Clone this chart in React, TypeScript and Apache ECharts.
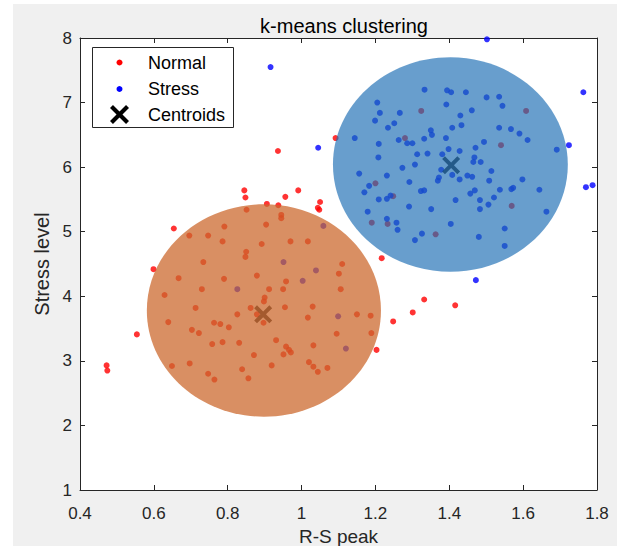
import React, { useEffect, useRef } from 'react';
import * as echarts from 'echarts';

// ---------- data ----------
const xTicks = [0.4, 0.6, 0.8, 1, 1.2, 1.4, 1.6, 1.8];
const yTicks = [1, 2, 3, 4, 5, 6, 7, 8];

const normalPoints: [number, number][] = [
  [0.472, 2.93], [0.474, 2.85], [0.554, 3.41], [0.599, 4.42], [0.654, 5.05], [0.845, 5.64], [0.848, 5.53],
  [0.956, 5.54], [0.991, 5.64], [0.936, 6.25], [1.050, 5.46], [1.044, 5.37], [1.048, 5.34], [1.092, 6.45],
  [1.217, 4.59], [1.332, 3.95], [1.301, 3.75], [1.416, 3.86], [1.248, 3.61], [1.203, 3.17],
  [0.851, 5.34], [0.906, 5.43], [0.937, 5.41], [0.791, 5.08], [0.696, 4.94], [0.747, 4.94], [0.786, 4.85],
  [0.850, 4.69], [0.848, 4.61], [0.734, 4.53], [0.667, 4.28], [0.790, 4.27], [0.879, 4.32], [0.730, 4.11],
  [0.629, 4.02], [0.713, 3.82], [0.826, 3.72], [0.862, 3.82], [0.879, 3.72], [0.639, 3.60], [0.763, 3.59],
  [0.780, 3.57], [0.803, 3.52], [0.703, 3.48], [0.722, 3.43], [0.758, 3.26], [0.786, 3.29], [0.831, 3.28],
  [0.871, 3.09], [0.649, 2.92], [0.697, 2.96], [0.747, 2.80], [0.764, 2.71], [0.839, 2.87], [0.856, 2.73],
  [0.904, 5.11], [0.945, 5.26], [0.945, 5.21], [0.892, 4.81], [0.970, 4.85], [1.017, 4.85], [0.958, 4.23],
  [0.950, 4.11], [0.912, 4.11], [0.900, 3.98], [0.898, 3.92], [0.955, 3.83], [0.897, 3.59], [1.030, 3.84],
  [1.017, 3.67], [1.110, 4.50], [1.101, 4.35], [1.106, 4.11], [1.150, 3.72], [1.187, 3.70], [1.095, 3.42],
  [1.189, 3.43], [0.931, 3.32], [0.958, 3.22], [0.966, 3.17], [0.971, 3.13], [0.951, 3.10], [1.032, 3.24],
  [1.020, 2.98], [1.032, 2.91], [1.044, 2.83], [1.070, 2.89], [0.919, 2.93],
  [1.324, 6.87], [1.280, 6.45], [1.200, 5.75], [1.248, 5.55], [1.190, 5.14], [1.233, 5.12], [1.363, 4.96],
  [1.608, 6.87], [1.540, 6.34], [1.569, 5.40],
];

const stressPoints: [number, number][] = [
  [0.916, 7.55], [1.045, 6.30], [1.502, 7.98], [1.763, 7.16], [1.724, 6.34], [1.770, 5.69], [1.788, 5.72],
  [1.472, 4.25],
  [0.826, 4.11], [1.059, 5.09], [0.951, 4.53], [1.039, 4.40], [1.003, 4.24], [1.099, 3.69], [1.120, 3.19],
  [1.333, 7.20], [1.394, 7.19], [1.405, 7.16], [1.445, 7.16], [1.205, 7.00], [1.392, 6.97], [1.212, 6.84],
  [1.266, 6.84], [1.199, 6.72], [1.251, 6.68], [1.234, 6.61], [1.430, 6.80], [1.433, 6.65], [1.408, 6.61],
  [1.350, 6.57], [1.353, 6.50], [1.144, 6.45], [1.263, 6.42], [1.332, 6.44], [1.391, 6.45], [1.286, 6.37],
  [1.300, 6.37], [1.209, 6.36], [1.398, 6.28], [1.428, 6.25], [1.313, 6.20], [1.341, 6.21], [1.381, 6.20],
  [1.208, 6.15], [1.307, 6.04], [1.273, 5.99], [1.378, 5.96], [1.156, 5.90], [1.231, 5.87], [1.408, 5.88],
  [1.428, 5.81], [1.372, 5.84], [1.369, 5.79], [1.183, 5.71], [1.292, 5.77], [1.170, 5.61], [1.323, 5.63],
  [1.332, 5.64], [1.209, 5.50], [1.231, 5.51], [1.241, 5.56], [1.417, 5.49], [1.291, 5.39], [1.351, 5.35],
  [1.179, 5.31], [1.231, 5.20], [1.257, 5.14], [1.260, 5.03], [1.404, 5.12], [1.326, 4.97], [1.307, 4.87],
  [1.501, 7.08], [1.535, 7.09], [1.544, 6.95], [1.461, 6.88], [1.535, 6.61], [1.567, 6.59], [1.590, 6.52],
  [1.612, 6.42], [1.691, 6.27], [1.494, 6.39], [1.471, 6.30], [1.468, 6.15], [1.465, 6.08], [1.485, 6.08],
  [1.514, 5.94], [1.449, 5.87], [1.462, 5.85], [1.508, 5.79], [1.598, 5.81], [1.469, 5.64], [1.457, 5.59],
  [1.537, 5.65], [1.568, 5.66], [1.573, 5.68], [1.644, 5.65], [1.483, 5.49], [1.521, 5.53], [1.506, 5.42],
  [1.483, 5.35], [1.663, 5.31], [1.550, 5.05], [1.480, 4.92], [1.550, 4.78],
];

const centroids: [number, number][] = [[0.896, 3.72], [1.405, 6.03]];

// cluster regions: [centerX, centerY, radiusX, radiusY]
const clusterRegions: [number, number, number, number][] = [
  [0.898, 3.78, 0.317, 1.645],
  [1.403, 6.04, 0.318, 1.66],
];

const legendLabels = ['Normal', 'Stress', 'Centroids'];

// ---------- styling ----------
const FONT = '"Liberation Sans", Arial, Helvetica, sans-serif';
const AXIS_COLOR = '#262626';
const regionColors = ['rgba(204,104,44,0.74)', 'rgba(30,110,180,0.67)'];
const xShape = [[2.5, 0], [8, 5.5], [13.5, 0], [16, 2.5], [10.5, 8], [16, 13.5], [13.5, 16], [8, 10.5], [2.5, 16], [0, 13.5], [5.5, 8], [0, 2.5]];
const xPath = 'path://M' + xShape.map((p) => p.join(',')).join('L') + 'Z';

function xPolygon(cx: number, cy: number, size: number) {
  const s = size / 16;
  return xShape.map((p) => [cx - size / 2 + p[0] * s, cy - size / 2 + p[1] * s]);
}

const G = { left: 80, right: 20, top: 38, bottom: 56 };

function buildOption() {
  const axisCommon = {
    type: 'value' as const,
    splitLine: { show: false },
    axisLine: { show: true, onZero: false, lineStyle: { color: AXIS_COLOR, width: 1 } },
    axisTick: { show: true, inside: true, length: 5, lineStyle: { color: AXIS_COLOR } },
  };
  const legendX = 119.5;
  const legendTextX = 148;
  const rows = [62.5, 89, 114.5];
  return {
    animation: false,
    backgroundColor: 'transparent',
    textStyle: { fontFamily: FONT },
    title: {
      text: 'k-means clustering',
      left: 339,
      top: 11,
      textAlign: 'center',
      textStyle: { fontSize: 20, fontWeight: 'normal', color: '#000', fontFamily: FONT },
    },
    grid: { ...G, show: true, backgroundColor: '#fff', borderWidth: 0, containLabel: false, outerBoundsMode: 'none' },
    xAxis: [
      {
        ...axisCommon,
        min: xTicks[0],
        max: xTicks[xTicks.length - 1],
        interval: 0.2,
        position: 'bottom',
        name: 'R-S peak',
        nameLocation: 'middle',
        nameGap: 32,
        nameTextStyle: { fontSize: 19, color: AXIS_COLOR, fontFamily: FONT, lineHeight: 19 },
        axisLabel: { fontSize: 17, color: AXIS_COLOR, margin: 15, fontFamily: FONT },
      },
      {
        ...axisCommon,
        min: xTicks[0],
        max: xTicks[xTicks.length - 1],
        interval: 0.2,
        position: 'top',
        axisLabel: { show: false },
      },
    ],
    yAxis: [
      {
        ...axisCommon,
        min: yTicks[0],
        max: yTicks[yTicks.length - 1],
        interval: 1,
        position: 'left',
        name: 'Stress level',
        nameLocation: 'middle',
        nameGap: 27,
        nameTextStyle: { fontSize: 20, color: AXIS_COLOR, fontFamily: FONT },
        axisLabel: { fontSize: 17, color: AXIS_COLOR, margin: 8, fontFamily: FONT },
      },
      {
        ...axisCommon,
        min: yTicks[0],
        max: yTicks[yTicks.length - 1],
        interval: 1,
        position: 'right',
        axisLabel: { show: false },
      },
    ],
    series: [
      {
        name: legendLabels[0],
        type: 'scatter',
        data: normalPoints,
        symbol: 'circle',
        symbolSize: 6,
        itemStyle: { color: '#ff0000' },
        z: 2,
      },
      {
        name: legendLabels[1],
        type: 'scatter',
        data: stressPoints,
        symbol: 'circle',
        symbolSize: 6,
        itemStyle: { color: '#0000ff' },
        z: 2,
      },
      {
        name: legendLabels[2],
        type: 'scatter',
        data: centroids,
        symbol: xPath,
        symbolSize: 18,
        itemStyle: { color: '#000' },
        z: 2,
      },
      {
        name: 'regions',
        type: 'custom',
        data: clusterRegions.map((r, i) => [...r, i]),
        z: 3,
        silent: true,
        renderItem: (params: any, api: any) => {
          const c = api.coord([api.value(0), api.value(1)]);
          const s = api.size([api.value(2), api.value(3)]);
          return {
            type: 'ellipse',
            shape: { cx: c[0], cy: c[1], rx: s[0], ry: s[1] },
            style: { fill: regionColors[api.value(4)] },
          };
        },
      },
    ],
    graphic: [
      {
        type: 'group',
        z: 100,
        children: [
          {
            type: 'rect',
            shape: { x: 92.5, y: 47.5, width: 141, height: 80 },
            style: { fill: '#fff', stroke: AXIS_COLOR, lineWidth: 1 },
          },
          { type: 'circle', shape: { cx: legendX, cy: rows[0], r: 3 }, style: { fill: '#ff0000' } },
          { type: 'circle', shape: { cx: legendX, cy: rows[1], r: 3 }, style: { fill: '#0000ff' } },
          { type: 'polygon', shape: { points: xPolygon(legendX, rows[2], 19) }, style: { fill: '#000' } },
          ...legendLabels.map((t, i) => ({
            type: 'text',
            x: legendTextX,
            y: rows[i],
            style: { text: t, fontSize: 18, fontFamily: FONT, fill: '#000', align: 'left', verticalAlign: 'middle' },
          })),
        ],
      },
    ],
  };
}

export default function App() {
  const ref = useRef<HTMLDivElement>(null);
  useEffect(() => {
    if (!ref.current) return;
    const chart = echarts.init(ref.current, null, { renderer: 'svg' });
    chart.setOption(buildOption() as any);
    return () => chart.dispose();
  }, []);
  return (
    <div style={{ position: 'fixed', left: 0, top: 0, width: 617, height: 546, background: '#fff', overflow: 'hidden' }}>
      <div style={{ position: 'absolute', left: 13, top: 4, right: 0, bottom: 0, background: '#f0f0f0' }} />
      <div ref={ref} style={{ position: 'absolute', left: 0, top: 0, width: 617, height: 546 }} />
    </div>
  );
}
